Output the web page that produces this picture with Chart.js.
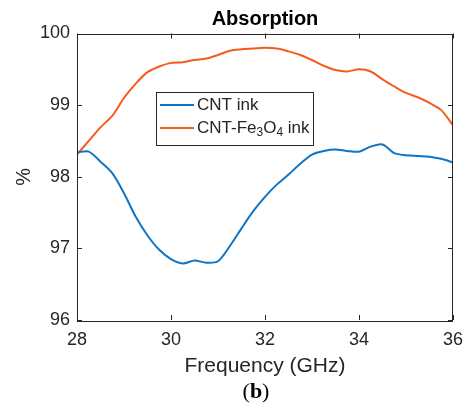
<!DOCTYPE html>
<html>
<head>
<meta charset="utf-8">
<title>Absorption</title>
<script src="https://cdn.jsdelivr.net/npm/chart.js@4"></script>
<style>
  html, body { margin: 0; padding: 0; background: #fff; }
  canvas { display: block; }
</style>
</head>
<body>
<canvas id="c-absorption" width="472" height="410"></canvas>
<script>
// Frequency sweep (GHz) and measured absorption (%)
const freq = [28, 28.25, 28.5, 28.75, 29, 29.25, 29.5, 29.75, 30, 30.25, 30.5, 30.75,
  31, 31.25, 31.5, 31.75, 32, 32.25, 32.5, 32.75, 33, 33.25, 33.5, 33.75,
  34, 34.25, 34.5, 34.75, 35, 35.25, 35.5, 35.75, 36];
const cntInk = [98.34, 98.35, 98.21, 98.05, 97.77, 97.44, 97.18, 96.98, 96.85, 96.79, 96.83, 96.80,
  96.82, 97.03, 97.28, 97.52, 97.72, 97.89, 98.03, 98.18, 98.31, 98.36, 98.38, 98.36,
  98.35, 98.42, 98.45, 98.33, 98.30, 98.29, 98.28, 98.25, 98.20];
const cntFeInk = [98.31, 98.50, 98.69, 98.85, 99.10, 99.30, 99.46, 99.54, 99.59, 99.60, 99.63, 99.65,
  99.70, 99.76, 99.78, 99.79, 99.80, 99.79, 99.75, 99.70, 99.63, 99.55, 99.49, 99.47,
  99.50, 99.47, 99.36, 99.26, 99.17, 99.11, 99.03, 98.93, 98.72];

const xTicks = [28, 30, 32, 34, 36];
const yTicks = [96, 97, 98, 99, 100];

const BLUE = '#0f74c4';
const ORANGE = '#f55b1c';
const INK = '#262626';
const SANS = '"Liberation Sans", Arial, sans-serif';
const SERIF = '"Liberation Serif", serif';

const toPoints = ys => ys.map((v, i) => ({ x: freq[i], y: v }));

// Box around the plot with inward tick marks on all four sides
const frameTicks = {
  id: 'frameTicks',
  afterDatasetsDraw(chart) {
    const { ctx, chartArea: a, scales: { x, y } } = chart;
    const len = 5;
    ctx.save();
    ctx.strokeStyle = INK;
    ctx.lineWidth = 1;
    ctx.beginPath();
    xTicks.forEach(v => {
      const px = Math.round(x.getPixelForValue(v)) + 0.5;
      ctx.moveTo(px, a.bottom); ctx.lineTo(px, a.bottom - len);
      ctx.moveTo(px, a.top); ctx.lineTo(px, a.top + len);
    });
    yTicks.forEach(v => {
      const py = Math.round(y.getPixelForValue(v)) + 0.5;
      ctx.moveTo(a.left, py); ctx.lineTo(a.left + len, py);
      ctx.moveTo(a.right, py); ctx.lineTo(a.right - len, py);
    });
    ctx.stroke();
    ctx.strokeRect(Math.round(a.left) + 0.5, Math.round(a.top) + 0.5,
      Math.round(a.width) - 1, Math.round(a.height));
    ctx.restore();
  }
};

// Legend box inside the plot, second entry has subscripts
const insetLegend = {
  id: 'insetLegend',
  afterDatasetsDraw(chart) {
    const { ctx } = chart;
    const box = { x: 156.5, y: 92.5, w: 157, h: 53 };
    ctx.save();
    ctx.fillStyle = '#fff';
    ctx.fillRect(box.x, box.y, box.w, box.h);
    ctx.strokeStyle = INK;
    ctx.lineWidth = 1;
    ctx.strokeRect(box.x, box.y, box.w, box.h);

    const rows = [105, 128];
    chart.data.datasets.forEach((ds, i) => {
      ctx.strokeStyle = ds.borderColor;
      ctx.lineWidth = 2;
      ctx.beginPath();
      ctx.moveTo(160, rows[i]);
      ctx.lineTo(194, rows[i]);
      ctx.stroke();
    });

    ctx.fillStyle = INK;
    ctx.textBaseline = 'middle';
    ctx.textAlign = 'left';
    const big = '17px ' + SANS;
    const small = '12px ' + SANS;
    ctx.font = big;
    ctx.fillText('CNT ink', 197, rows[0]);

    // CNT-Fe3O4 ink
    const parts = [['CNT-Fe', big, 0], ['3', small, 5], ['O', big, 0], ['4', small, 5], [' ink', big, 0]];
    let cx = 197;
    parts.forEach(([t, f, dy]) => {
      ctx.font = f;
      ctx.fillText(t, cx, rows[1] + dy);
      cx += ctx.measureText(t).width;
    });
    ctx.restore();
  }
};

// Heading above the plot and panel tag below
const captions = {
  id: 'captions',
  afterDraw(chart) {
    const { ctx, chartArea: a } = chart;
    ctx.save();
    ctx.fillStyle = '#000';
    ctx.textAlign = 'center';
    ctx.textBaseline = 'middle';
    ctx.font = 'bold 20px ' + SANS;
    ctx.fillText('Absorption', (a.left + a.right) / 2, 19);

    ctx.textAlign = 'left';
    const reg = '22px ' + SERIF, bold = 'bold 22px ' + SERIF;
    ctx.font = reg;
    const wOpen = ctx.measureText('(').width;
    const wClose = ctx.measureText(')').width;
    ctx.font = bold;
    const wB = ctx.measureText('b').width;
    let bx = 256 - (wOpen + wB + wClose) / 2;
    ctx.font = reg;
    ctx.fillText('(', bx, 392); bx += wOpen;
    ctx.font = bold;
    ctx.fillText('b', bx, 392); bx += wB;
    ctx.font = reg;
    ctx.fillText(')', bx, 392);
    ctx.restore();
  }
};

new Chart(document.getElementById('c-absorption'), {
  type: 'line',
  data: {
    datasets: [
      { label: 'CNT ink', data: toPoints(cntInk), borderColor: BLUE, borderWidth: 2, pointRadius: 0, tension: 0.3 },
      { label: 'CNT-Fe3O4 ink', data: toPoints(cntFeInk), borderColor: ORANGE, borderWidth: 2, pointRadius: 0, tension: 0.3 }
    ]
  },
  options: {
    responsive: false,
    animation: false,
    devicePixelRatio: 1,
    layout: { padding: { top: 33.5, left: 0, right: 13, bottom: 0 } },
    plugins: { legend: { display: false }, tooltip: { enabled: false } },
    scales: {
      x: {
        type: 'linear',
        min: 28, max: 36,
        afterFit: s => { s.height = 90; },
        afterBuildTicks: s => { s.ticks = xTicks.map(v => ({ value: v })); },
        grid: { display: false, drawTicks: false },
        border: { display: false },
        ticks: { padding: 9, color: INK, font: { family: SANS, size: 18 }, maxRotation: 0 },
        title: { display: true, text: 'Frequency (GHz)', color: INK, font: { family: SANS, size: 21 }, padding: { top: 0, bottom: 31 } }
      },
      y: {
        min: 96, max: 100,
        afterFit: s => { s.width = 77; },
        afterBuildTicks: s => { s.ticks = yTicks.map(v => ({ value: v })); },
        grid: { display: false, drawTicks: false },
        border: { display: false },
        ticks: { padding: 7, color: INK, font: { family: SANS, size: 18 } },
        title: { display: true, text: '%', color: INK, font: { family: SANS, size: 20 }, padding: { top: 12, bottom: 0 } }
      }
    }
  },
  plugins: [frameTicks, insetLegend, captions]
});
</script>
</body>
</html>
